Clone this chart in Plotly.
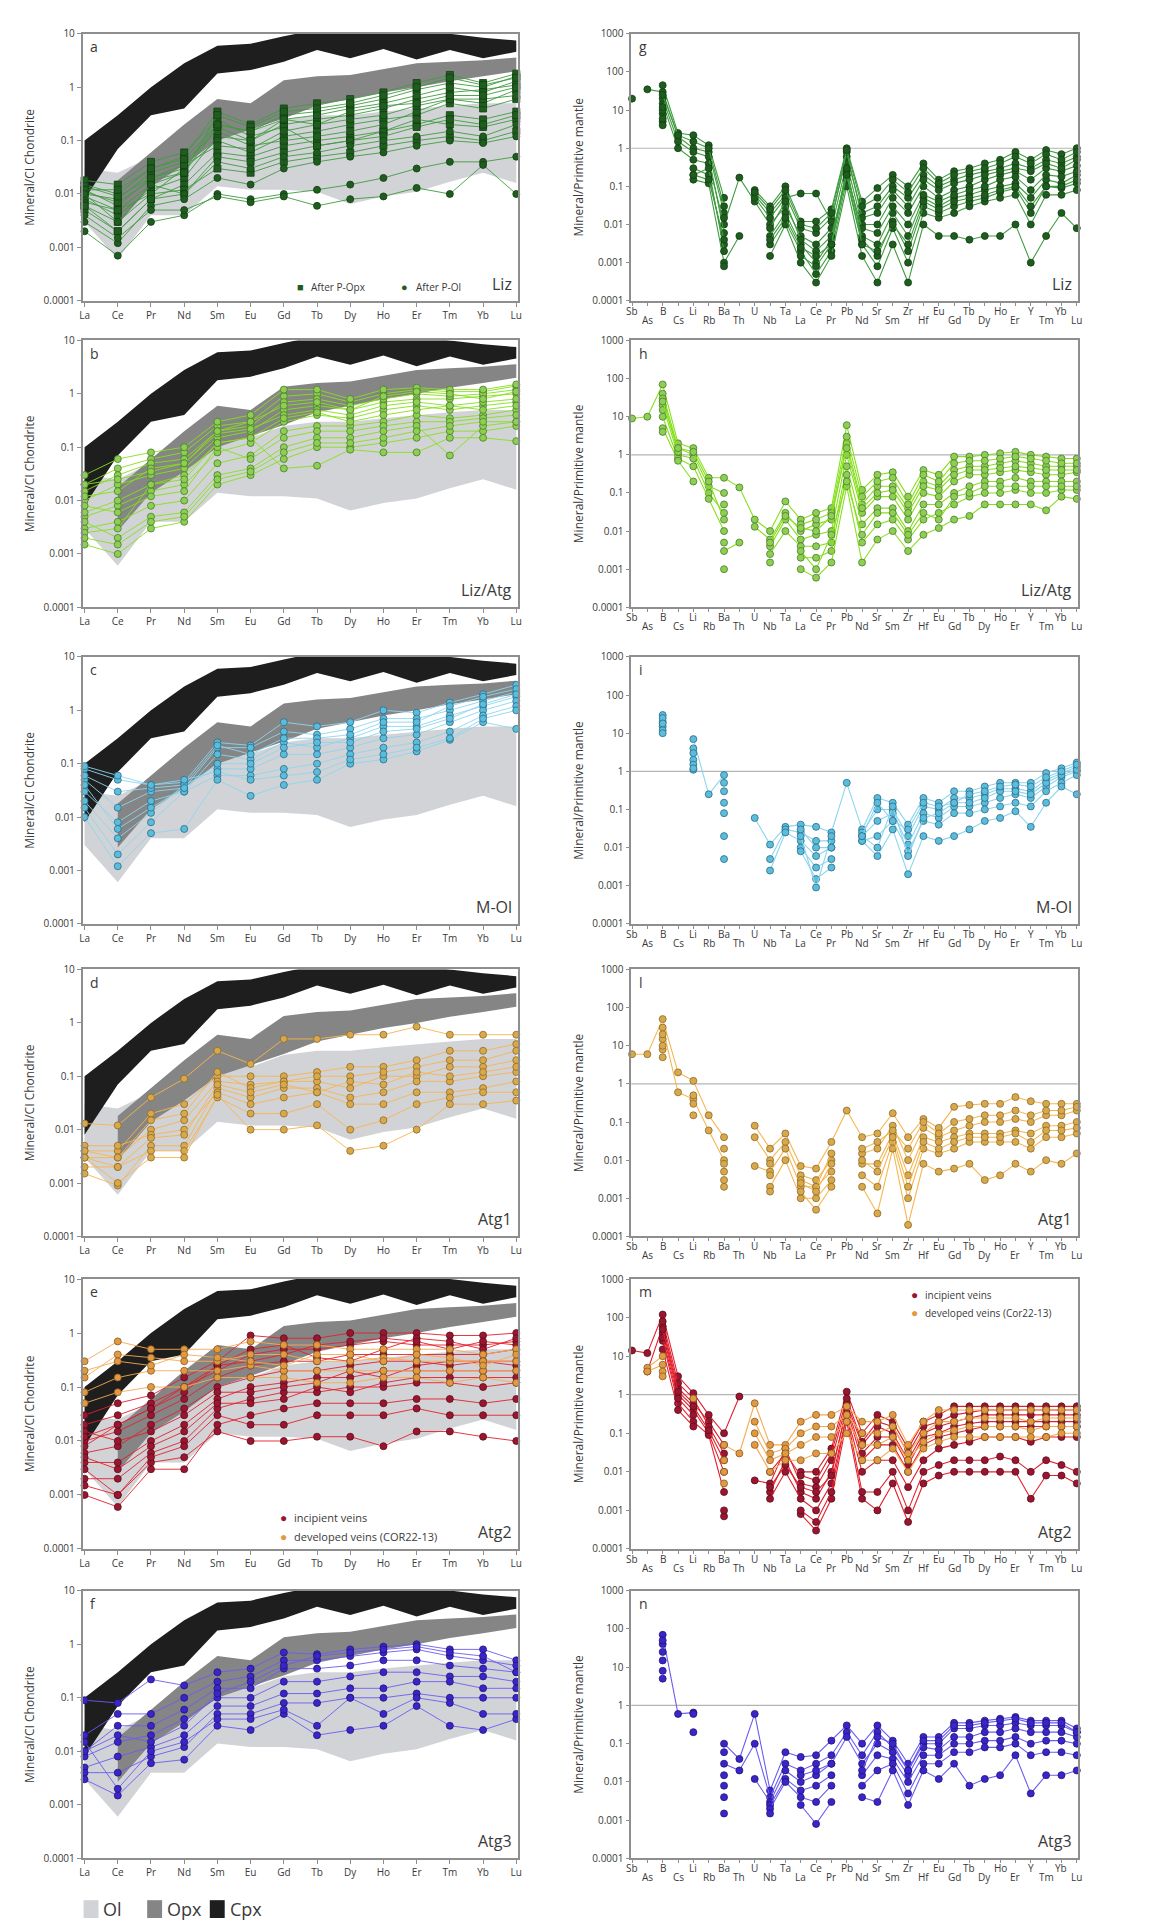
import plotly.graph_objects as go

W, H = 1166, 1921
N = None

REE = ["La", "Ce", "Pr", "Nd", "Sm", "Eu", "Gd", "Tb", "Dy", "Ho", "Er", "Tm", "Yb", "Lu"]
SPIDER = ["Sb", "As", "B", "Cs", "Li", "Rb", "Ba", "Th", "U", "Nb", "Ta", "La", "Ce", "Pr", "Pb",
          "Nd", "Sr", "Sm", "Zr", "Hf", "Eu", "Gd", "Tb", "Dy", "Ho", "Er", "Y", "Tm", "Yb", "Lu"]
LEFT_TICKS = [0.0001, 0.001, 0.01, 0.1, 1, 10]
LEFT_TICKTEXT = ["0.0001", "0.001", "0.01", "0.1", "1", "10"]
RIGHT_TICKS = [0.0001, 0.001, 0.01, 0.1, 1, 10, 100, 1000]
RIGHT_TICKTEXT = ["0.0001", "0.001", "0.01", "0.1", "1", "10", "100", "1000"]

# Reference fields (chondrite-normalised) : Ol, Opx (from Ce), Cpx
OL_LO = [0.003, 0.0006, 0.004, 0.004, 0.014, 0.012, 0.012, 0.011, 0.0065, 0.009, 0.011, 0.017, 0.025, 0.016]
OL_HI = [0.03, 0.025, 0.05, 0.1, 0.2, 0.15, 0.25, 0.3, 0.3, 0.35, 0.4, 0.45, 0.5, 0.5]
OPX_LO = [0.0027, 0.014, 0.035, 0.1, 0.16, 0.26, 0.45, 0.6, 0.8, 1.0, 1.3, 1.6, 2.0]
OPX_HI = [0.018, 0.06, 0.2, 0.6, 0.5, 1.35, 1.6, 1.7, 2.2, 2.8, 3.0, 3.2, 3.6]
CPX_LO = [0.008, 0.07, 0.3, 0.4, 1.8, 2.1, 3.0, 5.0, 3.5, 5.2, 3.3, 5.0, 3.5, 4.6]
CPX_HI = [0.1, 0.3, 1.0, 2.8, 6.0, 6.5, 9.0, 12, 12, 12, 12, 10, 8.5, 7.5]

# ---- Panel a : Liz (REE) ----
LIZ_REE_OPX = [
    [0.012, 0.006, 0.02, 0.03, 0.2, 0.15, 0.3, 0.35, 0.45, 0.6, 0.9, 1.2, 1.0, 1.6],
    [0.008, 0.004, 0.012, 0.02, 0.12, 0.1, 0.2, 0.25, 0.3, 0.4, 0.6, 0.8, 0.9, 1.1],
    [0.015, 0.01, 0.03, 0.05, 0.35, 0.2, 0.4, 0.5, 0.6, 0.8, 1.2, 1.7, 1.2, 1.8],
    [0.005, 0.002, 0.008, 0.015, 0.06, 0.05, 0.08, 0.1, 0.12, 0.15, 0.2, 0.3, 0.25, 0.35],
    [0.007, 0.005, 0.01, 0.03, 0.1, 0.06, 0.12, 0.15, 0.2, 0.25, 0.3, 0.5, 0.4, 0.6],
    [0.018, 0.015, 0.04, 0.06, 0.25, 0.12, 0.18, 0.08, 0.1, 0.15, 0.25, 0.2, 0.18, 0.25],
    [0.01, 0.008, 0.025, 0.04, 0.15, 0.08, 0.1, 0.12, 0.15, 0.2, 0.35, 0.6, 0.5, 0.9],
    [0.006, 0.003, 0.01, 0.012, 0.03, 0.025, 0.04, 0.05, 0.06, 0.08, 0.1, 0.12, 0.1, 0.15],
    [0.011, 0.007, 0.018, 0.025, 0.18, 0.1, 0.25, 0.3, 0.4, 0.5, 0.7, 1.0, 0.8, 1.3],
    [0.009, 0.005, 0.015, 0.025, 0.3, 0.18, 0.35, 0.4, 0.5, 0.7, 1.0, 1.5, 1.1, 1.5],
    [0.014, 0.009, 0.02, 0.035, 0.08, 0.07, 0.15, 0.2, 0.25, 0.3, 0.45, 0.6, 0.6, 0.7],
    [0.006, 0.002, 0.008, 0.01, 0.05, 0.04, 0.06, 0.08, 0.1, 0.12, 0.18, 0.25, 0.2, 0.3],
    [0.012, 0.012, 0.03, 0.045, 0.2, 0.15, 0.25, 0.2, 0.35, 0.45, 0.5, 0.7, 0.7, 1.0],
]
LIZ_REE_OL = [
    [0.01, 0.003, 0.015, 0.01, 0.04, 0.03, 0.05, 0.06, 0.08, 0.1, 0.12, 0.15, 0.12, 0.2],
    [0.003, 0.0012, 0.006, 0.008, 0.02, 0.015, 0.03, 0.04, 0.05, 0.06, 0.08, 0.1, 0.09, 0.12],
    [0.002, 0.0007, 0.003, 0.004, 0.01, 0.008, 0.01, 0.012, 0.015, 0.02, 0.03, 0.04, 0.04, 0.05],
    [0.004, 0.0015, 0.005, 0.005, 0.009, 0.007, 0.009, 0.006, 0.008, 0.009, 0.013, 0.01, 0.035, 0.01],
]
# ---- Panel b : Liz/Atg ----
LIZATG_REE = [
    [0.02, 0.04, 0.06, 0.08, 0.25, 0.3, 0.9, 1.0, 0.7, 1.0, 1.2, 1.1, 1.1, 1.4],
    [0.01, 0.02, 0.03, 0.04, 0.15, 0.2, 0.5, 0.6, 0.5, 0.7, 0.8, 0.8, 0.9, 1.0],
    [0.005, 0.008, 0.015, 0.02, 0.08, 0.12, 0.3, 0.4, 0.35, 0.5, 0.6, 0.5, 0.6, 0.7],
    [0.003, 0.004, 0.008, 0.01, 0.05, 0.07, 0.2, 0.25, 0.25, 0.3, 0.4, 0.35, 0.4, 0.5],
    [0.0015, 0.001, 0.003, 0.004, 0.02, 0.03, 0.06, 0.1, 0.1, 0.12, 0.15, 0.2, 0.2, 0.25],
    [0.015, 0.03, 0.05, 0.06, 0.2, 0.25, 0.7, 0.8, 0.6, 0.8, 1.0, 0.9, 1.0, 1.2],
    [0.008, 0.006, 0.012, 0.015, 0.1, 0.06, 0.15, 0.2, 0.2, 0.25, 0.3, 0.3, 0.35, 0.4],
    [0.03, 0.06, 0.08, 0.1, 0.3, 0.4, 1.2, 1.2, 0.8, 1.2, 1.3, 1.2, 1.2, 1.5],
    [0.004, 0.002, 0.005, 0.006, 0.03, 0.04, 0.1, 0.15, 0.15, 0.2, 0.25, 0.07, 0.25, 0.3],
    [0.0025, 0.003, 0.02, 0.03, 0.12, 0.15, 0.04, 0.045, 0.09, 0.08, 0.08, 0.15, 0.15, 0.13],
    [0.012, 0.015, 0.04, 0.05, 0.18, 0.22, 0.4, 0.5, 0.4, 0.6, 0.7, 0.6, 0.7, 0.8],
    [0.006, 0.01, 0.02, 0.025, 0.12, 0.15, 0.35, 0.45, 0.3, 0.4, 0.5, 0.6, 0.5, 0.6],
    [0.02, 0.025, 0.035, 0.05, 0.2, 0.3, 0.6, 0.7, 0.5, 0.9, 1.1, 1.0, 0.8, 1.1],
    [0.002, 0.0015, 0.004, 0.005, 0.025, 0.035, 0.08, 0.12, 0.12, 0.15, 0.2, 0.25, 0.3, 0.3],
]
# ---- Panel c : M-Ol ----
MOL_REE = [
    [0.08, 0.05, 0.04, 0.045, 0.25, 0.22, 0.6, 0.5, 0.6, 1.0, 0.9, 1.4, 2.0, 3.0],
    [0.05, 0.015, 0.03, 0.035, 0.2, 0.2, 0.4, 0.35, 0.45, 0.7, 0.7, 1.0, 1.5, 2.2],
    [0.03, 0.008, 0.02, 0.03, 0.15, 0.12, 0.25, 0.2, 0.3, 0.5, 0.5, 0.8, 1.2, 1.8],
    [0.02, 0.004, 0.012, 0.04, 0.08, 0.08, 0.15, 0.15, 0.2, 0.3, 0.35, 0.6, 1.0, 1.5],
    [0.015, 0.002, 0.008, 0.03, 0.06, 0.06, 0.08, 0.1, 0.15, 0.2, 0.25, 0.4, 0.8, 1.2],
    [0.01, 0.0012, 0.005, 0.006, 0.05, 0.025, 0.04, 0.05, 0.1, 0.12, 0.17, 0.28, 0.6, 0.45],
    [0.06, 0.03, 0.035, 0.04, 0.22, 0.15, 0.3, 0.3, 0.35, 0.6, 0.6, 1.2, 1.8, 2.5],
    [0.04, 0.006, 0.015, 0.035, 0.1, 0.1, 0.2, 0.25, 0.25, 0.4, 0.45, 0.7, 1.3, 2.0],
    [0.09, 0.06, 0.04, 0.05, 0.07, 0.05, 0.06, 0.07, 0.12, 0.15, 0.2, 0.3, 0.7, 1.0],
]
# ---- Panel d : Atg1 ----
ATG1_REE = [
    [0.013, 0.012, 0.04, 0.09, 0.3, 0.17, 0.5, 0.5, 0.6, 0.6, 0.85, 0.6, 0.6, 0.6],
    [0.004, 0.004, 0.02, 0.03, 0.1, 0.1, 0.1, 0.12, 0.15, 0.15, 0.2, 0.3, 0.3, 0.4],
    [0.003, 0.003, 0.01, 0.015, 0.08, 0.07, 0.08, 0.08, 0.06, 0.1, 0.1, 0.15, 0.15, 0.2],
    [0.0015, 0.0009, 0.005, 0.005, 0.06, 0.04, 0.06, 0.06, 0.04, 0.05, 0.08, 0.08, 0.1, 0.12],
    [0.005, 0.005, 0.008, 0.01, 0.05, 0.03, 0.04, 0.05, 0.03, 0.03, 0.05, 0.05, 0.06, 0.08],
    [0.002, 0.002, 0.004, 0.004, 0.04, 0.02, 0.02, 0.03, 0.01, 0.015, 0.03, 0.04, 0.05, 0.05],
    [0.003, 0.001, 0.003, 0.003, 0.045, 0.01, 0.01, 0.012, 0.004, 0.005, 0.01, 0.03, 0.03, 0.035],
    [0.004, 0.003, 0.015, 0.02, 0.12, 0.06, 0.08, 0.1, 0.1, 0.12, 0.15, 0.2, 0.2, 0.3],
    [0.003, 0.002, 0.007, 0.008, 0.07, 0.05, 0.07, 0.05, 0.08, 0.07, 0.12, 0.1, 0.12, 0.15],
]
# ---- Panel e : Atg2 ----
ATG2_INC_REE = [
    [0.03, 0.05, 0.07, 0.15, 0.3, 0.9, 0.8, 0.8, 1.0, 1.0, 1.0, 0.9, 0.9, 1.0],
    [0.02, 0.03, 0.05, 0.1, 0.2, 0.4, 0.5, 0.5, 0.6, 0.7, 0.6, 0.6, 0.6, 0.7],
    [0.01, 0.015, 0.03, 0.06, 0.15, 0.25, 0.3, 0.3, 0.4, 0.4, 0.4, 0.4, 0.4, 0.5],
    [0.006, 0.008, 0.02, 0.04, 0.1, 0.15, 0.2, 0.2, 0.25, 0.3, 0.3, 0.25, 0.3, 0.3],
    [0.004, 0.004, 0.01, 0.02, 0.06, 0.1, 0.12, 0.15, 0.15, 0.2, 0.2, 0.2, 0.2, 0.2],
    [0.002, 0.002, 0.006, 0.01, 0.04, 0.06, 0.08, 0.08, 0.1, 0.1, 0.12, 0.12, 0.1, 0.12],
    [0.001, 0.0006, 0.003, 0.003, 0.02, 0.03, 0.04, 0.05, 0.05, 0.05, 0.06, 0.06, 0.05, 0.06],
    [0.003, 0.001, 0.004, 0.005, 0.015, 0.01, 0.01, 0.012, 0.012, 0.008, 0.015, 0.015, 0.012, 0.01],
    [0.008, 0.02, 0.04, 0.08, 0.25, 0.5, 0.6, 0.35, 0.3, 0.5, 0.8, 0.7, 0.5, 0.8],
    [0.015, 0.01, 0.015, 0.03, 0.08, 0.08, 0.1, 0.12, 0.2, 0.15, 0.25, 0.3, 0.3, 0.25],
    [0.012, 0.02, 0.04, 0.1, 0.25, 0.3, 0.4, 0.6, 0.7, 0.8, 0.7, 0.5, 0.7, 0.6],
    [0.005, 0.003, 0.008, 0.015, 0.05, 0.05, 0.06, 0.1, 0.08, 0.12, 0.15, 0.15, 0.15, 0.15],
    [0.0015, 0.001, 0.005, 0.008, 0.03, 0.02, 0.02, 0.03, 0.03, 0.03, 0.04, 0.03, 0.03, 0.03],
]
ATG2_DEV_REE = [
    [0.3, 0.7, 0.5, 0.5, 0.5, 0.7, 0.6, 0.6, 0.5, 0.5, 0.5, 0.5, 0.4, 0.5],
    [0.15, 0.4, 0.35, 0.3, 0.3, 0.4, 0.4, 0.3, 0.3, 0.35, 0.3, 0.3, 0.3, 0.3],
    [0.08, 0.15, 0.2, 0.2, 0.2, 0.25, 0.2, 0.2, 0.2, 0.2, 0.2, 0.2, 0.2, 0.2],
    [0.05, 0.08, 0.1, 0.1, 0.15, 0.15, 0.15, 0.12, 0.12, 0.15, 0.15, 0.12, 0.15, 0.12],
    [0.2, 0.3, 0.25, 0.4, 0.35, 0.3, 0.25, 0.4, 0.4, 0.3, 0.4, 0.35, 0.25, 0.4],
]
# ---- Panel f : Atg3 ----
ATG3_REE = [
    [0.09, 0.08, 0.22, 0.17, 0.3, 0.35, 0.7, 0.65, 0.8, 0.9, 1.0, 0.8, 0.8, 0.5],
    [0.02, 0.05, 0.05, 0.1, 0.2, 0.25, 0.5, 0.5, 0.6, 0.7, 0.8, 0.6, 0.5, 0.4],
    [0.01, 0.03, 0.03, 0.06, 0.15, 0.15, 0.35, 0.35, 0.4, 0.5, 0.5, 0.4, 0.35, 0.3],
    [0.008, 0.015, 0.02, 0.04, 0.1, 0.1, 0.2, 0.2, 0.25, 0.3, 0.3, 0.25, 0.25, 0.2],
    [0.005, 0.008, 0.012, 0.02, 0.07, 0.07, 0.12, 0.12, 0.15, 0.15, 0.2, 0.2, 0.15, 0.15],
    [0.004, 0.004, 0.008, 0.012, 0.05, 0.05, 0.08, 0.08, 0.1, 0.1, 0.12, 0.1, 0.1, 0.1],
    [0.003, 0.0015, 0.006, 0.007, 0.03, 0.025, 0.05, 0.02, 0.025, 0.03, 0.07, 0.03, 0.025, 0.04],
    [0.015, 0.002, 0.01, 0.015, 0.04, 0.04, 0.06, 0.03, 0.1, 0.05, 0.1, 0.08, 0.05, 0.05],
    [0.01, 0.02, 0.015, 0.03, 0.12, 0.2, 0.4, 0.6, 0.7, 0.8, 0.9, 0.7, 0.6, 0.3],
]

# ---- Panel g : Liz (primitive mantle) ----
LIZ_PM = [
    [20, N, 45, 2.5, 2.2, 1.2, 0.05, N, 0.08, 0.03, 0.1, 0.012, 0.012, 0.025, 1.0, 0.04, 0.09, 0.2, 0.1, 0.4, 0.15, 0.25, 0.3, 0.4, 0.5, 0.8, 0.5, 0.9, 0.7, 1.0],
    [N, 35, 30, 2.0, 1.0, 0.8, 0.02, N, 0.06, 0.02, 0.06, 0.008, 0.006, 0.015, 0.6, 0.02, 0.03, 0.1, 0.05, 0.2, 0.1, 0.15, 0.2, 0.25, 0.3, 0.4, 0.3, 0.5, 0.4, 0.6],
    [N, N, 15, 1.0, 0.5, 0.4, 0.01, 0.17, 0.04, 0.01, 0.03, 0.005, 0.003, 0.008, 0.4, 0.01, 0.01, 0.05, 0.02, 0.1, 0.05, 0.08, 0.1, 0.15, 0.2, 0.25, 0.15, 0.3, 0.25, 0.35],
    [N, N, 8, N, 0.3, 0.2, 0.003, N, N, 0.005, 0.02, 0.003, 0.001, 0.004, 0.25, 0.005, 0.003, 0.02, 0.005, 0.05, 0.03, 0.05, 0.06, 0.08, 0.1, 0.12, 0.05, 0.15, 0.12, 0.2],
    [N, N, 5, N, 0.15, 0.12, 0.001, 0.005, N, 0.003, 0.012, 0.002, 0.0005, 0.002, 0.15, 0.003, 0.0008, 0.008, 0.001, 0.02, 0.015, 0.02, 0.03, 0.04, 0.05, 0.06, 0.01, 0.06, 0.06, 0.08],
    [N, N, 4, N, N, N, 0.0008, N, N, 0.0015, 0.01, 0.001, 0.0003, 0.0015, 0.1, 0.0015, 0.0003, 0.003, 0.0003, 0.01, 0.005, 0.005, 0.004, 0.005, 0.005, 0.01, 0.001, 0.005, 0.02, 0.008],
    [N, N, 20, 1.5, 0.8, 0.6, 0.006, N, 0.05, 0.015, 0.05, 0.065, 0.065, 0.012, 0.8, 0.015, 0.02, 0.08, 0.03, 0.15, 0.08, 0.12, 0.15, 0.2, 0.25, 0.3, 0.25, 0.4, 0.3, 0.5],
    [N, N, 10, N, 0.2, 0.3, 0.002, N, N, 0.008, 0.04, 0.004, 0.002, 0.005, 0.2, 0.008, 0.006, 0.03, 0.01, 0.06, 0.04, 0.06, 0.08, 0.1, 0.15, 0.18, 0.08, 0.2, 0.18, 0.25],
    [N, N, 12, N, N, N, 0.015, N, N, N, N, 0.0015, 0.0008, 0.003, 0.3, 0.004, 0.0015, 0.012, 0.002, 0.03, 0.02, 0.03, 0.04, 0.05, 0.07, 0.09, 0.02, 0.1, 0.09, 0.12],
    [N, N, 25, 2.2, 1.5, 1.0, 0.03, N, 0.07, 0.025, 0.08, 0.01, 0.008, 0.02, 0.9, 0.03, 0.05, 0.15, 0.07, 0.3, 0.12, 0.2, 0.25, 0.3, 0.4, 0.6, 0.4, 0.7, 0.5, 0.8],
    [N, N, 6, N, 0.2, 0.15, 0.004, N, N, 0.004, 0.015, 0.0025, 0.0015, 0.003, 0.2, 0.003, 0.002, 0.01, 0.003, 0.04, 0.025, 0.04, 0.05, 0.06, 0.08, 0.1, 0.03, 0.1, 0.1, 0.15],
]
# ---- Panel h : Liz/Atg ----
LIZATG_PM = [
    [9, 10, 70, 2.0, 1.5, 0.25, 0.25, 0.14, 0.02, 0.01, 0.06, 0.02, 0.03, 0.04, 6, 0.12, 0.3, 0.35, 0.08, 0.4, 0.3, 0.9, 0.9, 1.0, 1.1, 1.2, 1.0, 0.9, 0.8, 0.8],
    [N, N, 40, 1.5, 1.0, 0.15, 0.1, N, 0.013, 0.006, 0.03, 0.01, 0.015, 0.02, 2, 0.05, 0.15, 0.15, 0.04, 0.2, 0.15, 0.4, 0.5, 0.5, 0.6, 0.7, 0.6, 0.5, 0.5, 0.5],
    [N, N, 20, 1.0, 0.8, 0.1, 0.03, N, N, 0.004, 0.02, 0.006, 0.008, 0.01, 1.0, 0.03, 0.08, 0.08, 0.02, 0.1, 0.08, 0.2, 0.3, 0.3, 0.35, 0.4, 0.35, 0.3, 0.3, 0.35],
    [N, N, 10, 0.8, 0.5, 0.07, 0.01, N, N, 0.0025, 0.01, 0.004, 0.004, 0.005, 0.5, 0.015, 0.04, 0.04, 0.01, 0.05, 0.05, 0.1, 0.15, 0.2, 0.2, 0.25, 0.2, 0.2, 0.2, 0.2],
    [N, N, 5, 0.7, 0.2, N, 0.003, 0.005, N, 0.0015, N, 0.002, 0.002, 0.003, 0.3, 0.005, 0.015, 0.02, 0.006, 0.02, 0.03, 0.05, 0.08, 0.1, 0.1, 0.12, 0.1, 0.1, 0.12, 0.12],
    [N, N, 4, N, N, N, 0.001, N, N, N, N, 0.001, 0.0006, 0.0015, 0.15, 0.0015, 0.006, 0.01, 0.003, 0.008, 0.012, 0.02, 0.025, 0.05, 0.05, 0.05, 0.05, 0.035, 0.08, 0.07],
    [N, N, 30, 1.2, N, N, 0.05, N, N, N, N, 0.015, 0.02, 0.03, 3, 0.08, 0.2, 0.25, 0.05, 0.3, 0.2, 0.6, 0.7, 0.7, 0.8, 0.9, 0.8, 0.7, 0.6, 0.6],
    [N, N, 15, N, N, N, 0.005, N, N, N, N, 0.003, 0.001, 0.008, 0.2, 0.008, 0.03, 0.03, 0.008, 0.03, 0.02, 0.08, 0.1, 0.15, 0.15, 0.15, 0.15, 0.15, 0.15, 0.15],
    [N, N, 25, 1.5, 1.2, 0.2, 0.02, N, N, 0.005, 0.025, 0.012, 0.01, 0.025, 1.5, 0.04, 0.1, 0.12, 0.03, 0.15, 0.12, 0.3, 0.4, 0.4, 0.45, 0.5, 0.45, 0.4, 0.4, 0.4],
]
# ---- Panel i : M-Ol ----
MOL_PM = [
    [N, N, 30, N, 7, 0.25, 0.8, N, 0.06, 0.012, 0.035, 0.04, 0.035, 0.025, 0.5, 0.03, 0.2, 0.15, 0.04, 0.2, 0.15, 0.3, 0.3, 0.4, 0.5, 0.5, 0.5, 0.9, 1.2, 1.7],
    [N, N, 20, N, 4, N, 0.3, N, N, 0.005, 0.03, 0.025, 0.015, 0.015, N, 0.025, 0.1, 0.1, 0.02, 0.12, 0.1, 0.2, 0.2, 0.25, 0.35, 0.35, 0.3, 0.6, 0.9, 1.3],
    [N, N, 15, N, 2, N, 0.15, N, N, 0.0025, 0.025, 0.015, 0.006, 0.01, N, 0.02, 0.05, 0.08, 0.012, 0.08, 0.06, 0.12, 0.12, 0.15, 0.2, 0.25, 0.2, 0.4, 0.7, 1.0],
    [N, N, 12, N, 1.5, N, 0.08, N, N, N, N, 0.01, 0.003, 0.005, N, 0.015, 0.02, 0.05, 0.008, 0.05, 0.04, 0.08, 0.08, 0.1, 0.12, 0.15, 0.12, 0.3, 0.5, 0.8],
    [N, N, 10, N, 1.1, N, 0.02, N, N, N, N, 0.008, 0.0015, 0.003, N, 0.015, 0.006, 0.03, 0.002, 0.02, 0.015, 0.02, 0.03, 0.05, 0.06, 0.09, 0.035, 0.15, 0.4, 0.25],
    [N, N, 25, N, 3, N, 0.005, N, N, N, N, 0.02, 0.0009, 0.02, N, 0.02, 0.01, 0.12, 0.006, 0.06, 0.08, 0.15, 0.15, 0.2, 0.3, 0.3, 0.25, 0.5, 0.8, 1.1],
    [N, N, 18, N, 1.2, N, 0.5, N, N, N, N, 0.03, 0.01, 0.01, N, 0.02, 0.15, 0.05, 0.03, 0.15, 0.12, 0.15, 0.25, 0.3, 0.4, 0.45, 0.4, 0.7, 1.0, 1.5],
]
# ---- Panel l : Atg1 ----
ATG1_PM = [
    [6, 6, 50, 2, 1.2, 0.15, 0.04, N, 0.08, 0.02, 0.05, 0.007, 0.006, 0.03, 0.2, 0.04, 0.05, 0.17, 0.04, 0.12, 0.07, 0.25, 0.28, 0.3, 0.3, 0.45, 0.35, 0.3, 0.3, 0.3],
    [N, N, 30, 0.6, 0.4, 0.06, 0.01, N, 0.04, 0.01, 0.03, 0.004, 0.003, 0.01, N, 0.015, 0.02, 0.08, 0.01, 0.07, 0.04, 0.06, 0.08, 0.1, 0.1, 0.12, 0.1, 0.15, 0.15, 0.2],
    [N, N, 15, N, 0.3, N, 0.005, N, 0.007, 0.005, 0.02, 0.002, 0.002, 0.005, N, 0.008, 0.008, 0.05, 0.004, 0.04, 0.03, 0.04, 0.05, 0.05, 0.05, 0.06, 0.05, 0.08, 0.08, 0.1],
    [N, N, 8, N, 0.15, N, 0.002, N, N, 0.002, 0.01, 0.001, 0.001, 0.003, N, 0.004, 0.002, 0.03, 0.001, 0.02, 0.015, 0.02, 0.03, 0.03, 0.03, 0.03, 0.02, 0.04, 0.04, 0.05],
    [N, N, 5, N, N, N, 0.003, N, N, 0.0015, N, 0.0015, 0.0005, 0.002, N, 0.002, 0.0004, 0.02, 0.0002, 0.008, 0.005, 0.006, 0.008, 0.003, 0.004, 0.008, 0.005, 0.01, 0.008, 0.015],
    [N, N, 20, N, 0.5, N, 0.02, N, N, 0.008, N, 0.003, 0.002, 0.015, N, 0.02, 0.03, 0.06, 0.02, 0.1, 0.05, 0.1, 0.12, 0.15, 0.15, 0.2, 0.15, 0.2, 0.2, 0.25],
    [N, N, 10, N, N, N, 0.008, N, N, 0.004, N, 0.0025, 0.0015, 0.008, N, 0.01, 0.005, 0.04, 0.002, 0.03, 0.02, 0.03, 0.04, 0.04, 0.04, 0.05, 0.03, 0.06, 0.06, 0.07],
]
# ---- Panel m : Atg2 ----
ATG2_INC_PM = [
    [14, 12, 120, 3, 1.1, 0.3, 0.1, 0.9, N, N, N, 0.01, 0.01, 0.04, 1.2, 0.1, 0.3, 0.2, 0.04, 0.2, 0.3, 0.5, 0.5, 0.5, 0.5, 0.5, 0.5, 0.5, 0.5, 0.5],
    [N, 4, 60, 1.5, 0.6, 0.2, 0.05, N, 0.006, 0.005, 0.04, 0.005, 0.004, 0.02, 0.6, 0.05, 0.15, 0.1, 0.02, 0.1, 0.15, 0.2, 0.25, 0.3, 0.3, 0.3, 0.3, 0.3, 0.3, 0.3],
    [N, N, 40, 1.0, 0.4, 0.1, 0.01, N, N, 0.003, 0.02, 0.003, 0.002, 0.01, 0.4, 0.02, 0.05, 0.05, 0.01, 0.05, 0.08, 0.1, 0.12, 0.15, 0.15, 0.15, 0.15, 0.15, 0.15, 0.15],
    [N, N, 25, 0.6, 0.2, 0.09, 0.003, N, N, 0.002, 0.01, 0.002, 0.001, 0.005, 0.3, 0.01, 0.02, 0.02, 0.004, 0.02, 0.04, 0.05, 0.06, 0.08, 0.08, 0.08, 0.06, 0.08, 0.08, 0.08],
    [N, N, 15, 0.4, 0.15, N, 0.0007, N, N, N, N, 0.0008, 0.0003, 0.002, 0.2, 0.002, 0.001, 0.005, 0.0005, 0.005, 0.008, 0.01, 0.01, 0.01, 0.01, 0.01, 0.002, 0.008, 0.008, 0.005],
    [N, N, 80, 2, 0.8, 0.15, 0.03, N, N, 0.01, 0.03, 0.008, 0.006, 0.03, 0.8, 0.06, 0.2, 0.15, 0.03, 0.15, 0.2, 0.3, 0.35, 0.4, 0.4, 0.4, 0.4, 0.4, 0.4, 0.4],
    [N, N, 30, 0.8, 0.3, N, 0.001, N, N, N, N, 0.001, 0.0005, 0.003, 0.3, 0.003, 0.003, 0.01, 0.001, 0.01, 0.015, 0.02, 0.02, 0.02, 0.025, 0.02, 0.01, 0.02, 0.015, 0.01],
    [N, N, 50, 1.2, 0.5, 0.12, 0.02, N, N, 0.004, 0.015, 0.004, 0.003, 0.008, 0.5, 0.03, 0.08, 0.08, 0.015, 0.08, 0.1, 0.15, 0.18, 0.2, 0.2, 0.2, 0.2, 0.2, 0.2, 0.2],
]
ATG2_DEV_PM = [
    [N, 5, 10, N, 0.8, N, 0.05, 0.03, 0.6, 0.05, 0.05, 0.2, 0.3, 0.3, 0.5, 0.2, 0.2, 0.3, 0.05, 0.2, 0.4, 0.4, 0.4, 0.4, 0.4, 0.4, 0.4, 0.4, 0.4, 0.4],
    [N, 4, 6, N, N, N, 0.02, N, 0.2, 0.03, 0.04, 0.1, 0.15, 0.15, 0.3, 0.1, 0.1, 0.15, 0.03, 0.1, 0.2, 0.2, 0.25, 0.25, 0.25, 0.25, 0.2, 0.25, 0.25, 0.25],
    [N, N, 4, N, N, N, 0.01, N, 0.1, 0.02, 0.03, 0.05, 0.08, 0.08, 0.2, 0.05, 0.05, 0.08, 0.02, 0.06, 0.1, 0.12, 0.15, 0.15, 0.15, 0.15, 0.12, 0.15, 0.15, 0.15],
    [N, N, 3, N, N, N, 0.005, N, 0.05, 0.01, 0.02, 0.02, 0.03, 0.03, 0.1, 0.02, 0.02, 0.04, 0.01, 0.04, 0.06, 0.08, 0.08, 0.08, 0.08, 0.08, 0.08, 0.08, 0.1, 0.1],
]
# ---- Panel n : Atg3 ----
ATG3_PM = [
    [N, N, 70, 0.6, 0.65, N, 0.1, 0.04, 0.6, 0.006, 0.06, 0.045, 0.05, 0.12, 0.3, 0.1, 0.3, 0.12, 0.03, 0.15, 0.15, 0.35, 0.35, 0.4, 0.45, 0.5, 0.4, 0.4, 0.4, 0.25],
    [N, N, 40, N, 0.6, N, 0.03, 0.02, 0.1, 0.004, 0.03, 0.02, 0.03, 0.05, 0.2, 0.05, 0.2, 0.08, 0.02, 0.1, 0.1, 0.25, 0.25, 0.3, 0.3, 0.35, 0.3, 0.3, 0.3, 0.2],
    [N, N, 25, N, 0.2, N, 0.015, N, 0.012, 0.003, 0.02, 0.01, 0.015, 0.03, 0.15, 0.03, 0.1, 0.06, 0.015, 0.08, 0.07, 0.15, 0.15, 0.2, 0.2, 0.25, 0.2, 0.2, 0.2, 0.15],
    [N, N, 15, N, N, N, 0.008, N, N, 0.0025, 0.012, 0.006, 0.008, 0.015, N, 0.015, 0.05, 0.04, 0.01, 0.05, 0.05, 0.1, 0.1, 0.12, 0.12, 0.15, 0.1, 0.12, 0.12, 0.1],
    [N, N, 8, N, N, N, 0.004, N, N, 0.002, 0.01, 0.004, 0.003, 0.008, N, 0.008, 0.02, 0.03, 0.005, 0.03, 0.03, 0.06, 0.06, 0.08, 0.08, 0.1, 0.05, 0.06, 0.06, 0.05],
    [N, N, 5, N, N, N, 0.0015, N, N, 0.0015, N, 0.0025, 0.0008, 0.003, N, 0.004, 0.003, 0.02, 0.0025, 0.02, 0.012, 0.03, 0.008, 0.012, 0.015, 0.05, 0.005, 0.015, 0.015, 0.02],
    [N, N, 50, N, N, N, 0.06, N, N, N, N, 0.015, 0.02, 0.03, N, 0.02, 0.15, 0.1, 0.02, 0.12, 0.12, 0.3, 0.3, 0.35, 0.4, 0.45, 0.35, 0.35, 0.35, 0.2],
]

GROUP_NAMES = ["Liz", "Liz/Atg", "M-Ol", "Atg1", "Atg2", "Atg3"]
LEFT_LETTERS = ["a", "b", "c", "d", "e", "f"]
RIGHT_LETTERS = ["g", "h", "i", "l", "m", "n"]

# ---------------- styling ----------------
FONT = "Open Sans"
ROW_TOP = [18, 327, 646, 961, 1273, 1587]
ROW_BOT = [287, 596, 915, 1230, 1545, 1857]
LEFT_X = (72, 510)
RIGHT_X = (624, 1073)
FRAME = "#8e8e8e"
TXT = "#3a3a3a"

STYLE = {
    "liz": dict(line="#3f9c3f", fill="#1f5d1f", edge="#123d12"),
    "lizatg": dict(line="#86e01c", fill="#8ccf52", edge="#4b7a2c"),
    "mol": dict(line="#8cd6ef", fill="#5cbcdc", edge="#2a6c86"),
    "atg1": dict(line="#f6b650", fill="#d9a84a", edge="#8a6b2c"),
    "inc": dict(line="#e3202d", fill="#9a1630", edge="#5a0d1b"),
    "dev": dict(line="#f6aa52", fill="#e19a42", edge="#8a5a20"),
    "atg3": dict(line="#6b5cf2", fill="#3a26c8", edge="#21137a"),
}


def px(x):
    return x / W


def py(y):
    return 1 - y / H


fig = go.Figure()
layout = dict(width=W, height=H, margin=dict(l=0, r=0, t=0, b=0),
              paper_bgcolor="white", plot_bgcolor="white", showlegend=False,
              font=dict(family=FONT, color=TXT), shapes=[], annotations=[])


def axis_names(n):
    return ("x" if n == 1 else f"x{n}"), ("y" if n == 1 else f"y{n}")


def add_series(n, rows, xs, key, symbol="circle", msize=7, lw=1.0):
    xa, ya = axis_names(n)
    st = STYLE[key]
    for r in rows:
        fig.add_trace(go.Scatter(
            x=xs, y=r, xaxis=xa, yaxis=ya, mode="lines+markers", cliponaxis=False,
            line=dict(color=st["line"], width=lw),
            marker=dict(symbol=symbol, size=msize, color=st["fill"],
                        line=dict(color=st["edge"], width=0.8)),
            hoverinfo="skip"))


def add_fields(n):
    xa, ya = axis_names(n)
    xs = list(range(len(REE)))
    fig.add_trace(go.Scatter(x=xs + xs[::-1], y=OL_HI + OL_LO[::-1], xaxis=xa, yaxis=ya,
                             fill="toself", fillcolor="#d2d3d7", line=dict(width=0),
                             mode="lines", hoverinfo="skip"))
    xo = xs[1:]
    fig.add_trace(go.Scatter(x=xo + xo[::-1], y=OPX_HI + OPX_LO[::-1], xaxis=xa, yaxis=ya,
                             fill="toself", fillcolor="#858585", line=dict(width=0),
                             mode="lines", hoverinfo="skip"))
    fig.add_trace(go.Scatter(x=xs + xs[::-1], y=CPX_HI + CPX_LO[::-1], xaxis=xa, yaxis=ya,
                             fill="toself", fillcolor="#1e1e1e", line=dict(width=0),
                             mode="lines", hoverinfo="skip"))


LEFT_DATA = [
    [("liz", LIZ_REE_OPX, "square"), ("liz", LIZ_REE_OL, "circle")],
    [("lizatg", LIZATG_REE, "circle")],
    [("mol", MOL_REE, "circle")],
    [("atg1", ATG1_REE, "circle")],
    [("inc", ATG2_INC_REE, "circle"), ("dev", ATG2_DEV_REE, "circle")],
    [("atg3", ATG3_REE, "circle")],
]
RIGHT_DATA = [
    [("liz", LIZ_PM, "circle")],
    [("lizatg", LIZATG_PM, "circle")],
    [("mol", MOL_PM, "circle")],
    [("atg1", ATG1_PM, "circle")],
    [("inc", ATG2_INC_PM, "circle"), ("dev", ATG2_DEV_PM, "circle")],
    [("atg3", ATG3_PM, "circle")],
]

for r in range(6):
    ydom = [py(ROW_BOT[r]), py(ROW_TOP[r])]
    # ---- left panel ----
    nL = 2 * r + 1
    xa, ya = axis_names(nL)
    xk = "xaxis" if nL == 1 else f"xaxis{nL}"
    yk = "yaxis" if nL == 1 else f"yaxis{nL}"
    layout[xk] = dict(domain=[px(LEFT_X[0]), px(LEFT_X[1])], anchor=ya, range=[-0.06, 13.05],
                      tickmode="array", tickvals=list(range(len(REE))), ticktext=REE,
                      ticks="outside", ticklen=4, tickcolor=FRAME, showgrid=False, zeroline=False,
                      showline=True, linecolor=FRAME, linewidth=1.5, mirror=True,
                      tickfont=dict(size=10, color=TXT))
    layout[yk] = dict(domain=ydom, anchor=xa, type="log", range=[-4, 1],
                      tickmode="array", tickvals=LEFT_TICKS, ticktext=LEFT_TICKTEXT,
                      ticks="outside", ticklen=4, tickcolor=FRAME, showgrid=False, zeroline=False,
                      showline=True, linecolor=FRAME, linewidth=1.5, mirror=True,
                      tickfont=dict(size=10, color=TXT),
                      title=dict(text="Mineral/CI Chondrite", font=dict(size=12, color=TXT), standoff=6))
    add_fields(nL)
    for key, rows, sym in LEFT_DATA[r]:
        add_series(nL, rows, list(range(len(REE))), key, symbol=sym, msize=7, lw=0.9)
    layout["annotations"].append(dict(xref=f"{xa} domain", yref=f"{ya} domain", x=0.012, y=0.995,
                                      xanchor="left", yanchor="top", showarrow=False,
                                      text=LEFT_LETTERS[r], font=dict(size=14, color=TXT)))
    layout["annotations"].append(dict(xref=f"{xa} domain", yref=f"{ya} domain", x=0.992, y=0.015,
                                      xanchor="right", yanchor="bottom", showarrow=False,
                                      text=GROUP_NAMES[r], font=dict(size=16, color=TXT)))

    # ---- right panel ----
    nR = 2 * r + 2
    xa, ya = axis_names(nR)
    xk, yk = f"xaxis{nR}", f"yaxis{nR}"
    layout[xk] = dict(domain=[px(RIGHT_X[0]), px(RIGHT_X[1])], anchor=ya, range=[-0.05, 29.05],
                      tickmode="array", tickvals=list(range(len(SPIDER))), ticktext=[""] * len(SPIDER),
                      ticks="outside", ticklen=3, tickcolor=FRAME, showgrid=False, zeroline=False,
                      showline=True, linecolor=FRAME, linewidth=1.5, mirror=True)
    layout[yk] = dict(domain=ydom, anchor=xa, type="log", range=[-4, 3],
                      tickmode="array", tickvals=RIGHT_TICKS, ticktext=RIGHT_TICKTEXT,
                      ticks="outside", ticklen=4, tickcolor=FRAME, showgrid=False, zeroline=False,
                      showline=True, linecolor=FRAME, linewidth=1.5, mirror=True,
                      tickfont=dict(size=10, color=TXT),
                      title=dict(text="Mineral/Primitive mantle", font=dict(size=12, color=TXT), standoff=6))
    layout["shapes"].append(dict(type="line", xref=f"{xa} domain", yref=ya, x0=0, x1=1, y0=1, y1=1,
                                 line=dict(color="#b4b4b4", width=1.2), layer="below"))
    for key, rows, sym in RIGHT_DATA[r]:
        add_series(nR, rows, list(range(len(SPIDER))), key, symbol=sym, msize=7, lw=1.1)
    for i, el in enumerate(SPIDER):
        layout["annotations"].append(dict(xref=xa, yref="paper", x=i,
                                          y=py(ROW_BOT[r] + (10 if i % 2 == 0 else 19)),
                                          xanchor="center", yanchor="middle", showarrow=False,
                                          text=el, font=dict(size=10, color=TXT)))
    layout["annotations"].append(dict(xref=f"{xa} domain", yref=f"{ya} domain", x=0.012, y=0.995,
                                      xanchor="left", yanchor="top", showarrow=False,
                                      text=RIGHT_LETTERS[r], font=dict(size=14, color=TXT)))
    layout["annotations"].append(dict(xref=f"{xa} domain", yref=f"{ya} domain", x=0.992, y=0.015,
                                      xanchor="right", yanchor="bottom", showarrow=False,
                                      text=GROUP_NAMES[r], font=dict(size=16, color=TXT)))


def legend_item(x, y, sym, color, label, size=10, symsize=11):
    layout["annotations"].append(dict(xref="paper", yref="paper", x=px(x), y=py(y), xanchor="center",
                                      yanchor="middle", showarrow=False, text=sym,
                                      font=dict(size=symsize, color=color)))
    layout["annotations"].append(dict(xref="paper", yref="paper", x=px(x + 9), y=py(y), xanchor="left",
                                      yanchor="middle", showarrow=False, text=label,
                                      font=dict(size=size, color=TXT)))


# panel a legend
legend_item(291, 273, "■", STYLE["liz"]["fill"], "After P-Opx", size=10)
legend_item(396, 273, "●", STYLE["liz"]["fill"], "After P-Ol", size=10)
# panel e legend
legend_item(274, 1513, "●", STYLE["inc"]["fill"], "incipient veins", size=11, symsize=12)
legend_item(274, 1532, "●", STYLE["dev"]["fill"], "developed veins (COR22-13)", size=11, symsize=12)
# panel m legend
legend_item(909, 1289, "●", STYLE["inc"]["fill"], "incipient veins", size=10, symsize=12)
legend_item(909, 1307, "●", STYLE["dev"]["fill"], "developed veins (Cor22-13)", size=10, symsize=12)

# bottom legend for the mineral fields
FIELD_LEGEND = [("Ol", "#d2d3d7", 73), ("Opx", "#858585", 137), ("Cpx", "#1e1e1e", 200)]
for label, col, x0 in FIELD_LEGEND:
    layout["shapes"].append(dict(type="rect", xref="paper", yref="paper", x0=px(x0), x1=px(x0 + 15),
                                 y0=py(1917), y1=py(1899), fillcolor=col, line=dict(width=0)))
    layout["annotations"].append(dict(xref="paper", yref="paper", x=px(x0 + 18), y=py(1908),
                                      xanchor="left", yanchor="middle", showarrow=False, text=label,
                                      font=dict(size=18, color=TXT)))

fig.update_layout(**layout)
fig.write_html("out.html")
